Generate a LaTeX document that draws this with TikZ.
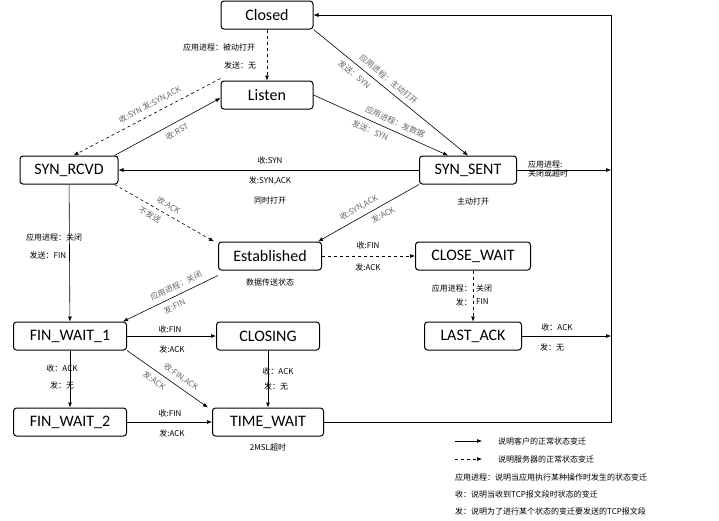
\documentclass[tikz,border=0pt]{standalone}
\usepackage{fontspec}
\setmainfont{Carlito}
\newfontfamily\cjk{Noto Sans CJK SC}
\usetikzlibrary{arrows.meta}

\tikzset{
  state/.style={draw, rounded corners=3pt, line width=1pt, minimum width=92pt, minimum height=28pt, font=\fontsize{16}{16}\selectfont, inner sep=2pt},
  lbl/.style={font=\cjk\fontsize{8}{9}\selectfont, inner sep=1pt},
  glbl/.style={lbl, text=black!60},
  tr/.style={-{Latex[length=5pt,width=4pt]}, line width=0.6pt},
  sv/.style={tr, dashed},
}

\begin{document}
\begin{tikzpicture}[x=1pt,y=-1pt]
\useasboundingbox (0,0) rectangle (719,520);

% states
\node[state] (closed) at (267,15) {Closed};
\node[state] (listen) at (267,95) {Listen};
\node[state, minimum width=98pt] (synrcvd) at (69,170) {SYN\_RCVD};
\node[state, minimum width=97pt] (synsent) at (468,170) {SYN\_SENT};
\node[state, minimum width=103pt] (estab) at (270,256) {Established};
\node[state, minimum width=115pt] (closewait) at (473,256) {CLOSE\_WAIT};
\node[state, minimum width=113pt] (fw1) at (70,336) {FIN\_WAIT\_1};
\node[state, minimum width=103pt] (closing) at (268,336) {CLOSING};
\node[state, minimum width=97pt] (lastack) at (473,336) {LAST\_ACK};
\node[state, minimum width=113pt] (fw2) at (70,422) {FIN\_WAIT\_2};
\node[state, minimum width=111pt] (timewait) at (268,422) {TIME\_WAIT};

% corners of the return line
\coordinate (rtop) at (611,15);
\coordinate (rbot) at (611,422);
\coordinate (rsyn) at (611,170);
\coordinate (rlast) at (611,336);

% open
\draw[sv] (closed) -- (listen);
\node[lbl] at (219,47) {应用进程：被动打开};
\node[lbl] at (240,65) {发送：无};
\draw[tr] (closed.south east) -- (synsent.north);
\path (closed.south east) -- (synsent.north)
  node[glbl, sloped, pos=0.45, above=4pt] {应用进程：主动打开}
  node[glbl, sloped, pos=0.3, below=4pt] {发送：SYN};
\draw[tr] (listen.east) -- ([xshift=-20pt]synsent.north);
\path (listen.east) -- ([xshift=-20pt]synsent.north)
  node[glbl, sloped, pos=0.58, above=4pt] {应用进程：发数据}
  node[glbl, sloped, pos=0.45, below=4pt] {发送：SYN};
\draw[sv] ([yshift=2pt]listen.north west) -- ([xshift=-45pt]synrcvd.north east);
\path ([yshift=2pt]listen.north west) -- ([xshift=-45pt]synrcvd.north east)
  node[glbl, sloped, pos=0.45, above=4pt] {收:SYN 发:SYN,ACK};
\draw[tr] ([xshift=-4pt]synrcvd.north east) -- ([yshift=-3pt]listen.west);
\path ([xshift=-4pt]synrcvd.north east) -- ([yshift=-3pt]listen.west)
  node[glbl, sloped, pos=0.55, below=4pt] {收:RST};
\draw[tr] (synsent) -- (synrcvd);
\node[lbl] at (270,160) {收:SYN};
\node[lbl] at (270,181) {发:SYN,ACK};
\node[lbl] at (270,200) {同时打开};
\node[lbl] at (473,201) {主动打开};
\draw[tr] (synsent) -- (rsyn);
\node[lbl, align=left] at (548,169) {应用进程:\\关闭或超时};
\draw[sv] ([xshift=-4pt]synrcvd.south east) -- ([xshift=-4pt]estab.north west);
\path ([xshift=-4pt]synrcvd.south east) -- ([xshift=-4pt]estab.north west)
  node[glbl, sloped, pos=0.5, above=4pt] {收:ACK}
  node[glbl, sloped, pos=0.4, below=4pt] {不发送};
\draw[tr] (synsent.south west) -- ([xshift=-4pt]estab.north east);
\path (synsent.south west) -- ([xshift=-4pt]estab.north east)
  node[glbl, sloped, pos=0.55, above=4pt] {收:SYN,ACK}
  node[glbl, sloped, pos=0.4, below=4pt] {发:ACK};

% close
\draw[tr] (synrcvd) -- (fw1);
\node[lbl] at (54,237) {应用进程：关闭};
\node[lbl] at (48,255) {发送：FIN};
\draw[tr] ([yshift=-5pt]estab.south west) -- ([xshift=-4pt]fw1.north east);
\path ([xshift=-4pt]fw1.north east) -- ([yshift=-5pt]estab.south west)
  node[glbl, sloped, pos=0.6, above=4pt] {应用进程：关闭}
  node[glbl, sloped, pos=0.5, below=4pt] {发:FIN};
\node[lbl] at (270,282) {数据传送状态};
\draw[sv] (estab) -- (closewait);
\node[lbl] at (368,245) {收:FIN};
\node[lbl] at (368,267) {发:ACK};
\draw[sv] (closewait) -- (lastack);
\node[lbl, anchor=east] at (473,288) {应用进程：};
\node[lbl, anchor=west] at (475,288) {关闭};
\node[lbl, anchor=east] at (473,302) {发：};
\node[lbl, anchor=west] at (475,302) {FIN};
\draw[tr] (lastack) -- (rlast);
\node[lbl] at (557,327) {收：ACK};
\node[lbl] at (552,347) {发：无};
\draw[tr] (fw1) -- (closing);
\node[lbl] at (170,329) {收:FIN};
\node[lbl] at (172,349) {发:ACK};
\draw[tr] (fw1.south east) -- ([xshift=-4pt]timewait.north west);
\path (fw1.south east) -- ([xshift=-4pt]timewait.north west)
  node[glbl, sloped, pos=0.6, above=4pt] {收:FIN,ACK}
  node[glbl, sloped, pos=0.4, below=4pt] {发:ACK};
\draw[tr] (fw1) -- (fw2);
\node[lbl] at (62,368) {收：ACK};
\node[lbl] at (62,385) {发：无};
\draw[tr] (closing) -- (timewait);
\node[lbl] at (278,371) {收：ACK};
\node[lbl] at (276,386) {发：无};
\draw[tr] (fw2) -- (timewait);
\node[lbl] at (170,413) {收:FIN};
\node[lbl] at (172,433) {发:ACK};
\node[lbl] at (268,447) {2MSL超时};
\draw[tr] (timewait) -- (rbot) -- (rtop) -- (closed);

% legend
\coordinate (la) at (455,441); \coordinate (lb) at (482,441);
\coordinate (lc) at (455,459); \coordinate (ld) at (482,459);
\draw[tr] (la) -- (lb);
\draw[sv] (lc) -- (ld);
\node[lbl, anchor=west] at (497,441) {说明客户的正常状态变迁};
\node[lbl, anchor=west] at (497,459) {说明服务器的正常状态变迁};
\node[lbl, anchor=west] at (454,477) {应用进程：说明当应用执行某种操作时发生的状态变迁};
\node[lbl, anchor=west] at (454,494) {收：说明当收到TCP报文段时状态的变迁};
\node[lbl, anchor=west] at (454,511) {发：说明为了进行某个状态的变迁要发送的TCP报文段};

\end{tikzpicture}
\end{document}
